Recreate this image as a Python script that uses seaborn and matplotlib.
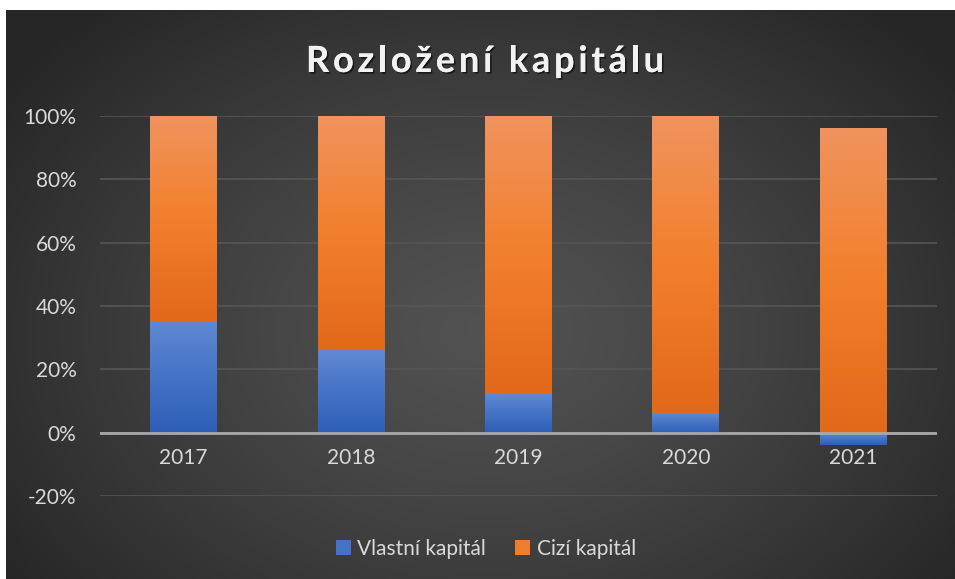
import numpy as np
import pandas as pd
import matplotlib
matplotlib.use("Agg")
import matplotlib.pyplot as plt
import seaborn as sns
from matplotlib.colors import LinearSegmentedColormap
from matplotlib.patches import Patch
from matplotlib.font_manager import FontProperties, findfont
from matplotlib.ft2font import FT2Font
import matplotlib.patheffects as pe

# ---- data ----
years = ["2017", "2018", "2019", "2020", "2021"]
vlastni = [35.4, 26.2, 12.6, 6.3, -3.8]
cizi = [64.6, 73.8, 87.4, 93.7, 96.2]
series_names = ["Vlastní kapitál", "Cizí kapitál"]
yticks = [-20, 0, 20, 40, 60, 80, 100]
title = "Rozložení kapitálu"

sns.set_theme(style="dark")
plt.rcParams["font.family"] = ["Lato", "DejaVu Sans"]

W, H = 955, 579
fig = plt.figure(figsize=(W / 100, H / 100), dpi=100, facecolor="white")

# background with radial gradient
bg = fig.add_axes([6 / W, 0, 949 / W, 569 / H], zorder=0)
h, w = 569, 949
yy, xx = np.mgrid[0:h, 0:w]
cx, cy = 480, 320
r = np.sqrt(((xx - cx) / (w * 0.62)) ** 2 + ((yy - cy) / (h * 0.75)) ** 2)
r = np.clip(r, 0, 1)
v = 0.32 - (0.32 - 0.15) * r ** 1.3
bg.imshow(np.dstack([v, v, v]), aspect="auto", extent=[0, 1, 0, 1], origin="upper")
bg.axis("off")

ax = fig.add_axes([100 / W, 1 - 496 / H, 837 / W, (496 - 116) / H], zorder=1)
ax.set_facecolor("none")

df = pd.DataFrame({"rok": years, "vlastni": vlastni, "cizi": cizi})
bottoms = np.where(np.array(vlastni) > 0, vlastni, 0)

sns.barplot(data=df, x="rok", y="vlastni", color="#4472c4", saturation=1,
            width=0.4, errorbar=None, ax=ax, zorder=2, edgecolor="none", linewidth=0)
sns.barplot(data=df, x="rok", y="cizi", color="#ed7d31", saturation=1,
            width=0.4, errorbar=None, ax=ax, bottom=bottoms, zorder=2,
            edgecolor="none", linewidth=0)

cmaps = [
    LinearSegmentedColormap.from_list("b", ["#6189d3", "#4573c6", "#2e5eb8"]),
    LinearSegmentedColormap.from_list("o", ["#f0935e", "#f27f2b", "#e2681a"]),
]
grad = np.linspace(0, 1, 200).reshape(-1, 1)
for cont, cm in zip(ax.containers, cmaps):
    for p in cont.patches:
        x0 = p.get_x()
        wd = p.get_width()
        y0 = p.get_y()
        ht = p.get_height()
        lo, hi = min(y0, y0 + ht), max(y0, y0 + ht)
        im = ax.imshow(grad, cmap=cm, aspect="auto", origin="upper",
                       extent=[x0, x0 + wd, lo, hi], zorder=2.5)
        im.set_clip_path(p)

ax.set_xlim(-0.5, 4.5)
ax.set_ylim(-20, 100)
ax.set_aspect("auto")
ax.set_yticks(yticks)
ax.set_yticklabels([f"{t}%" for t in yticks])
ax.set_xlabel("")
ax.set_ylabel("")
for s in ax.spines.values():
    s.set_visible(False)
ax.spines["bottom"].set_position(("data", 0))
ax.yaxis.grid(True, color="#565656", lw=1.2)
ax.xaxis.grid(False)
ax.set_axisbelow(True)
ax.axhline(0, color="#a9a9a9", lw=2, zorder=3)
ax.tick_params(axis="y", length=0, pad=17, labelsize=15, labelcolor="#d9d9d9")
ax.tick_params(axis="x", length=0, pad=11, labelsize=15, labelcolor="#d9d9d9")

# title with letter spacing
tsize = 26
fp = FontProperties(family="Lato", weight="bold", size=tsize)
font = FT2Font(findfont(fp))
font.set_size(tsize, 72)
adv = []
for ch in title:
    g = font.load_char(ord(ch))
    adv.append(g.linearHoriAdvance / 65536 * 100 / 72)  # px
target_w = 358
sp = (target_w - sum(adv)) / (len(title) - 1)
x = 306.0
for ch, a in zip(title, adv):
    fig.text(x / W, 1 - 72 / H, ch, ha="left", va="baseline",
             fontproperties=fp, color="#f2f2f2",
             path_effects=[pe.withSimplePatchShadow(offset=(1.2, -1.2), shadow_rgbFace="black", alpha=0.55),
                           pe.Normal()])
    x += a + sp

handles = [Patch(facecolor="#4472c4", edgecolor="none", linewidth=0),
           Patch(facecolor="#ed7d31", edgecolor="none", linewidth=0)]
fig.legend(handles, series_names, loc="center", bbox_to_anchor=(0.509, 1 - 549 / H), ncol=2,
           frameon=False, handlelength=0.72, handleheight=0.72, handletextpad=0.3,
           columnspacing=1.4, labelcolor="#d9d9d9", fontsize=15)

fig.savefig("out.png", dpi=100, facecolor=fig.get_facecolor())
